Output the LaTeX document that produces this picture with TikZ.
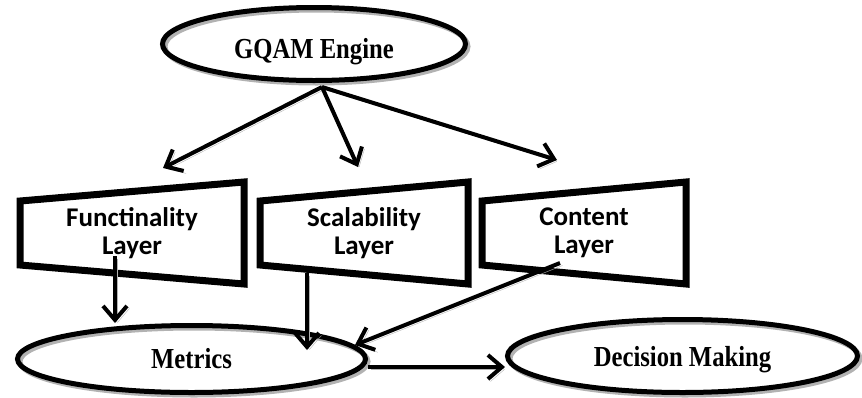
\documentclass[tikz,border=0pt]{standalone}
\usepackage{fontspec}
\setmainfont{Liberation Serif}[FakeStretch=0.85]
\setsansfont{Carlito}
\usetikzlibrary{positioning,arrows.meta,shapes.geometric}
\tikzset{%
oval/.style={draw,ellipse,line width=5pt,inner sep=0,font=\fontsize{29}{32}\selectfont\bfseries},
layer/.style={rectangle,inner sep=0,outer sep=0,minimum height=102pt,align=center,font=\sffamily\fontsize{27}{28}\selectfont\bfseries},
layerline/.style={line width=7pt,line join=miter},
flow/.style={line width=4pt,-{Straight Barb[length=14pt,width=24pt]}},
shadowed/.style={preaction={draw=gray!60,transform canvas={xshift=2.5pt,yshift=-2.5pt}}}
}

\begin{document}
\begin{tikzpicture}[x=1pt,y=-1pt]

    \useasboundingbox (0,0) rectangle (862,397);

    \node[oval,shadowed,minimum width=303pt,minimum height=73pt] (gqam) at (314,44)
        {\raisebox{-8pt}[\height][\depth]{GQAM Engine}};

    \node[layer,minimum width=224pt] (func) at (132,233) {Functinality\\Layer};
    \node[layer,minimum width=208pt] (scal) [right=16pt of func] {Scalability\\Layer};
    \node[layer,minimum width=204pt] (cont) [right=14pt of scal] {Content\\Layer};

    \foreach \l in {func,scal,cont}
      \draw[layerline,shadowed] ([yshift=-19pt]\l.north west) -- (\l.north east)
            -- (\l.south east) -- ([yshift=19pt]\l.south west) -- cycle;

    \node[oval,shadowed,minimum width=348pt,minimum height=67pt] (metrics) at (191.5,359) {Metrics};
    \node[oval,shadowed,minimum width=350pt,minimum height=73pt] (decision) at (682.5,356)
        {\raisebox{-4pt}[\height][\depth]{Decision Making}};

    \coordinate (hub) at ([xshift=8pt,yshift=-4pt]gqam.south);
    \draw[flow,shadowed] (hub) -- ([xshift=31pt,yshift=14pt]func.north);
    \draw[flow,shadowed] (hub) -- ([xshift=-6pt,yshift=15pt]scal.north);
    \draw[flow,shadowed] (hub) -- ([xshift=-27pt,yshift=22pt]cont.north);

    \coordinate (fm) at ([xshift=-17pt,yshift=-23pt]func.center);
    \draw[flow,shadowed] (fm) -- (fm |- metrics.north);

    \coordinate (sm) at ([xshift=-57pt,yshift=11pt]scal.south);
    \draw[flow,shadowed] (sm) -- ([xshift=115.5pt,yshift=9pt]metrics.center);

    \coordinate (cm) at ([xshift=-24pt,yshift=-30pt]cont.center);
    \draw[flow,shadowed] (cm) -- ([xshift=163.5pt,yshift=14pt]metrics.center);

    \coordinate (md) at ([yshift=-8pt]metrics.east);
    \draw[flow,shadowed] (md) -- (md -| decision.west);

\end{tikzpicture}
\end{document}
